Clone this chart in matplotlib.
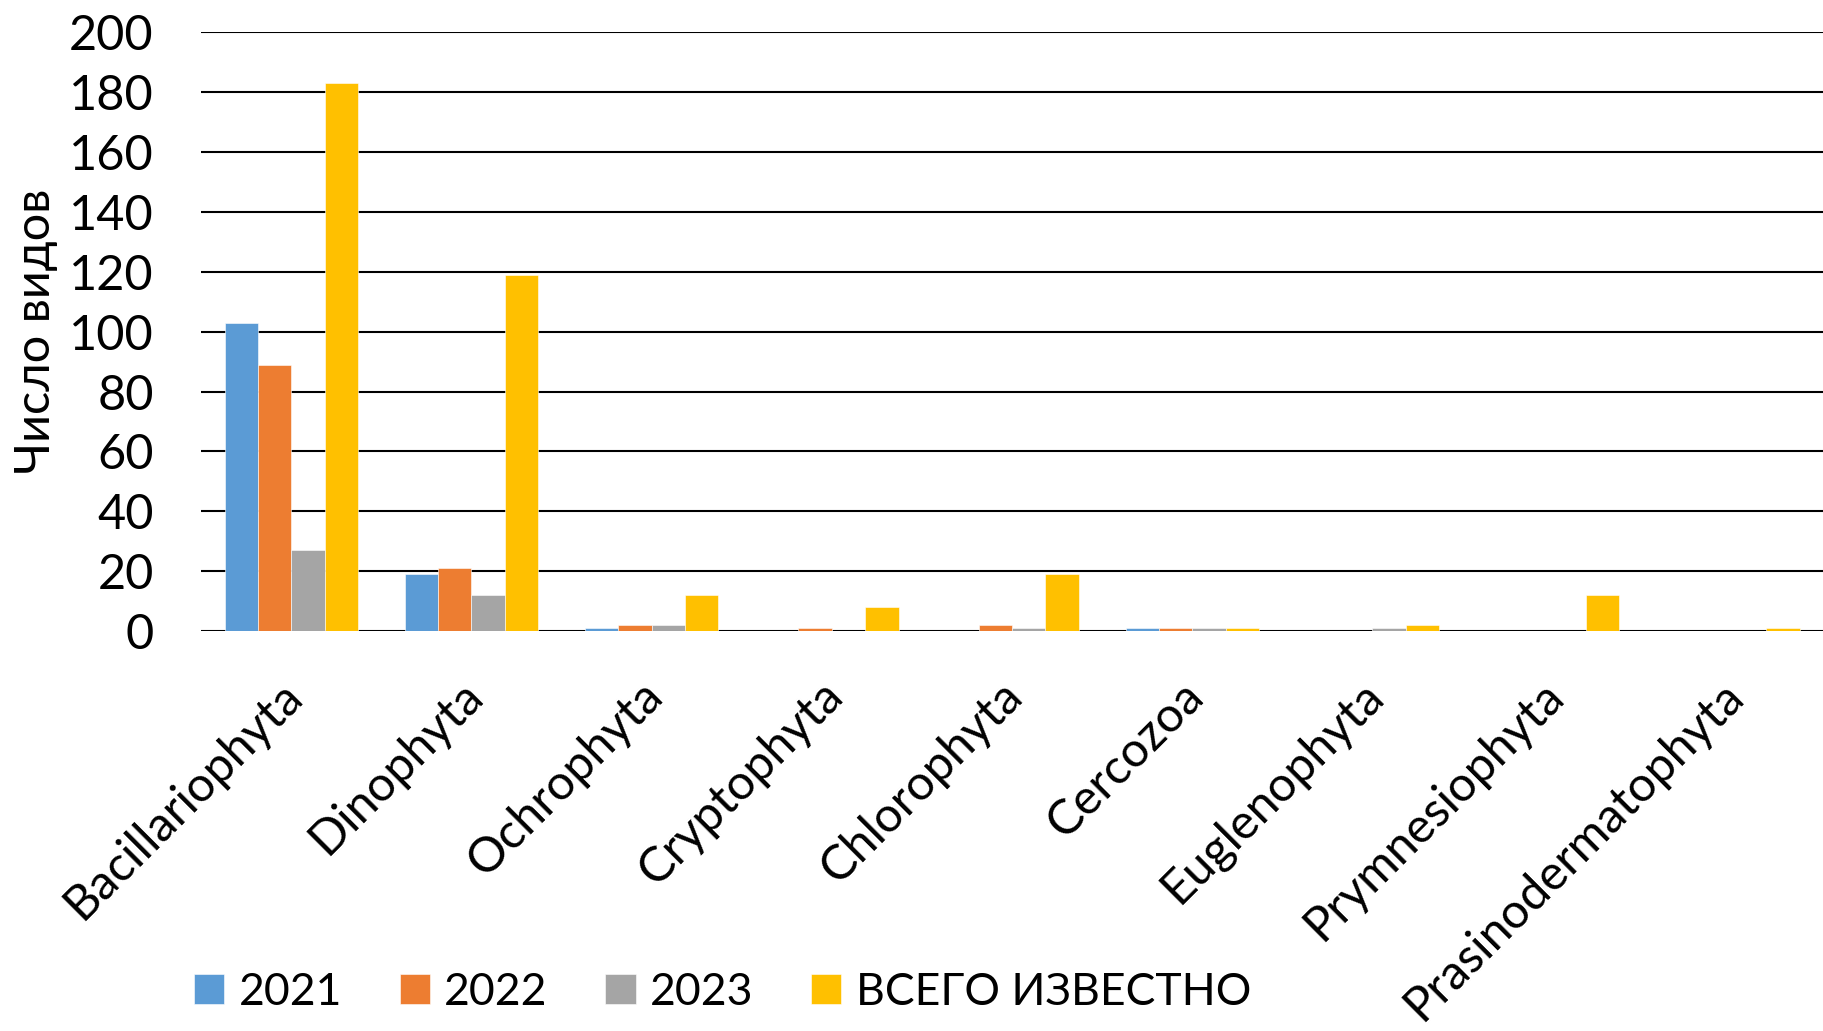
import matplotlib
matplotlib.use("Agg")
import matplotlib.pyplot as plt
import numpy as np
from matplotlib.transforms import ScaledTranslation

groups = ['Bacillariophyta', 'Dinophyta', 'Ochrophyta', 'Cryptophyta', 'Chlorophyta',
          'Cercozoa', 'Euglenophyta', 'Prymnesiophyta', 'Prasinodermatophyta']
series_names = ['2021', '2022', '2023', 'ВСЕГО ИЗВЕСТНО']
v2021 = [103, 19, 1, 0, 0, 1, 0, 0, 0]
v2022 = [89, 21, 2, 1, 2, 1, 0, 0, 0]
v2023 = [27, 12, 2, 0, 1, 1, 1, 0, 0]
v_total = [183, 119, 12, 8, 19, 1, 2, 12, 1]
yticks = [0, 20, 40, 60, 80, 100, 120, 140, 160, 180, 200]

colors = ['#5B9BD5', '#ED7D31', '#A5A5A5', '#FFC000']

plt.rcParams['font.family'] = ['Lato', 'DejaVu Sans']
FS = 35

fig = plt.figure(figsize=(18.23, 10.31), dpi=100)
ax = fig.add_axes([0.1103, 0.388, 0.8897, 0.5805])

x = np.arange(len(groups))
w = 0.185
for i, (vals, name) in enumerate(zip([v2021, v2022, v2023, v_total], series_names)):
    ax.bar(x + (i - 1.5) * w, vals, width=w, color=colors[i], label=name,
           edgecolor='white', linewidth=0.4, zorder=3)

ax.set_xlim(-0.5, len(groups) - 0.5)
ax.set_ylim(0, 200)
ax.set_yticks(yticks)
ax.yaxis.grid(True, color='black', linewidth=1.5, zorder=0)
ax.set_axisbelow(True)
for s in ax.spines.values():
    s.set_visible(False)
ax.tick_params(axis='both', length=0, labelsize=FS)
ax.tick_params(axis='y', pad=34)
ax.set_xticks(x)
ax.set_xticklabels(groups, rotation=45, ha='right', rotation_mode='anchor')
ax.tick_params(axis='x', pad=30)
# nudge the slanted category names a little to the left
shift = ScaledTranslation(-0.12, 0, fig.dpi_scale_trans)
for lbl in ax.get_xticklabels():
    lbl.set_transform(lbl.get_transform() + shift)

ax.set_ylabel('Число видов', fontsize=FS)
ax.yaxis.set_label_coords(-0.088, 0.5)

ax.legend(loc='center left', bbox_to_anchor=(0.1065, 0.0378), bbox_transform=fig.transFigure,
          ncol=4, frameon=False, fontsize=32, handlelength=0.68, handleheight=0.68,
          handletextpad=0.32, columnspacing=1.3, borderpad=0, borderaxespad=0)

fig.savefig('out.png', dpi=100)
